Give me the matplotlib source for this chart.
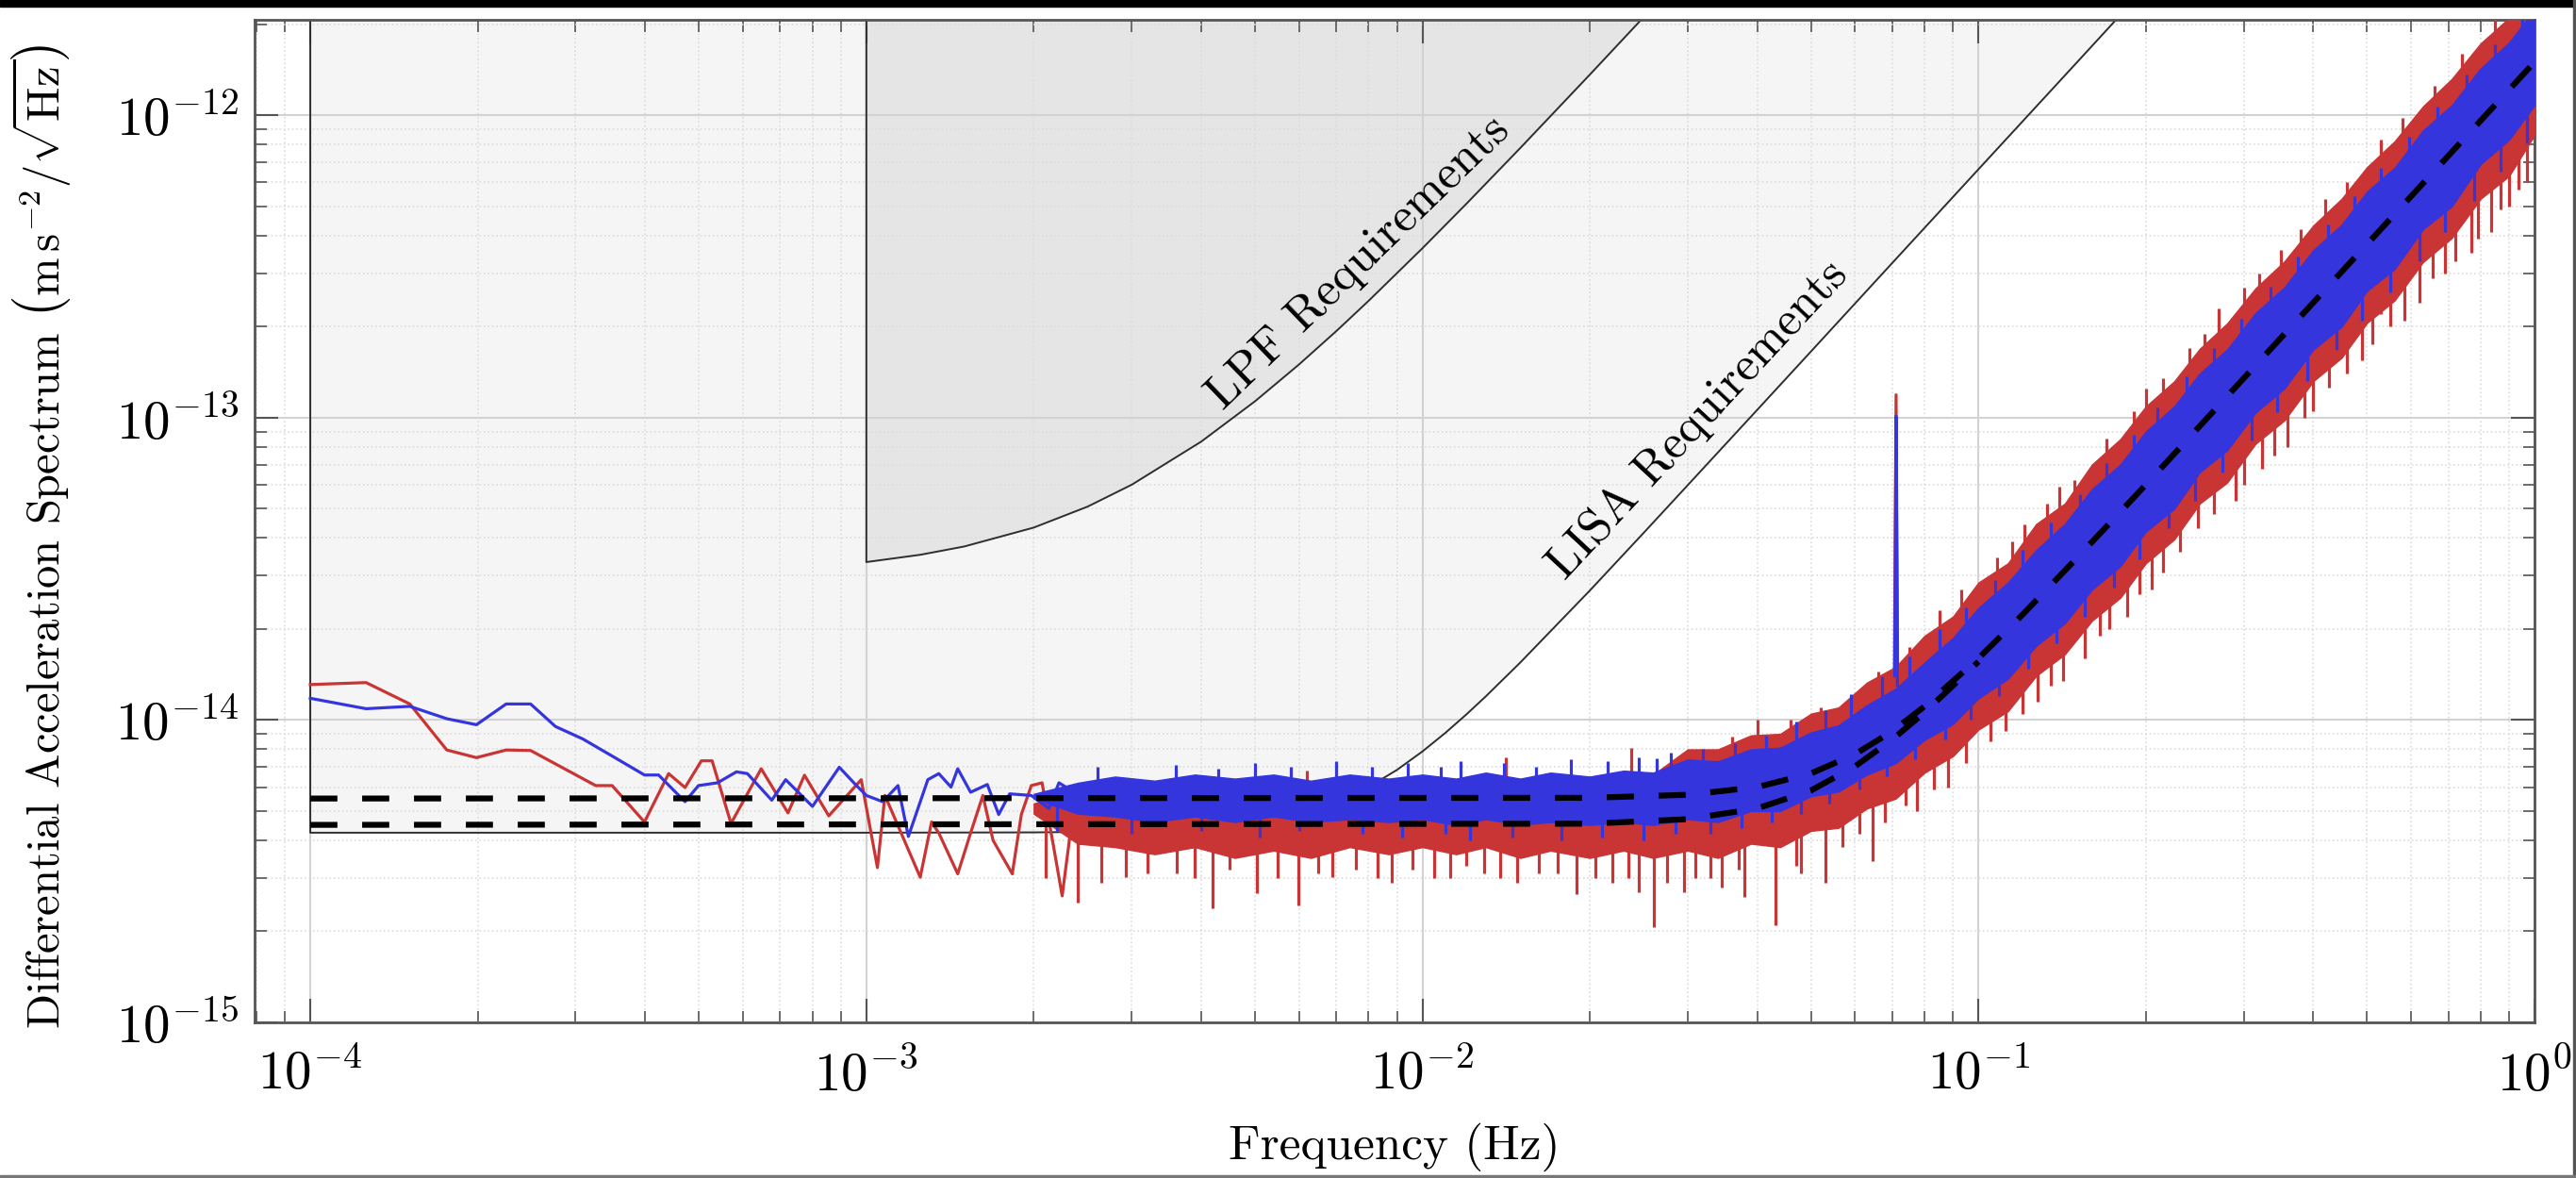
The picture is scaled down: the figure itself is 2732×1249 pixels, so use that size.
import numpy as np
import matplotlib
matplotlib.use("Agg")
import matplotlib.pyplot as plt
from matplotlib.patches import Rectangle

plt.rcParams["font.family"] = "serif"
plt.rcParams["font.serif"] = ["cmr10"]
plt.rcParams["mathtext.fontset"] = "cm"
plt.rcParams["axes.formatter.use_mathtext"] = True
plt.rcParams["axes.unicode_minus"] = False

# ----------------------------------------------------------
# 1. DATA
# ----------------------------------------------------------

x_ticks = [1e-4, 1e-3, 1e-2, 1e-1, 1e0]
y_ticks = [1e-15, 1e-14, 1e-13, 1e-12]

# requirement curves
lisa_f = [1e-4, 1e-3, 2e-3, 3e-3, 4e-3, 5e-3, 6e-3, 7e-3, 8e-3, 9e-3, 1e-2,
          1.1e-2, 1.2e-2, 1.3e-2, 1.5e-2, 2e-2, 2.5e-2, 3e-2, 4e-2, 5e-2,
          7e-2, 0.1, 0.15, 0.2]
lisa_v = [4.24e-15, 4.24e-15, 4.25e-15, 4.28e-15, 4.37e-15, 4.55e-15, 4.86e-15,
          5.34e-15, 6.0e-15, 6.84e-15, 7.87e-15, 9.07e-15, 1.044e-14, 1.197e-14,
          1.55e-14, 2.68e-14, 4.16e-14, 5.98e-14, 1.061e-13, 1.657e-13,
          3.25e-13, 6.63e-13, 1.49e-12, 2.65e-12]

lpf_f = [1e-3, 1.25e-3, 1.5e-3, 2e-3, 2.5e-3, 3e-3, 4e-3, 5e-3, 6e-3, 7e-3,
         8e-3, 1e-2, 1.2e-2, 1.5e-2, 2e-2, 2.5e-2, 3e-2]
lpf_v = [3.33e-14, 3.52e-14, 3.75e-14, 4.33e-14, 5.08e-14, 6.0e-14, 8.33e-14,
         1.133e-13, 1.5e-13, 1.933e-13, 2.433e-13, 3.633e-13, 5.1e-13, 7.8e-13,
         1.363e-12, 2.113e-12, 3.03e-12]

# noise models (dashed)
model_hi_f = [1e-4, 2e-2, 3e-2, 4e-2, 5e-2, 6e-2, 7e-2, 8e-2, 0.1, 0.12, 0.15,
              0.2, 0.3, 0.5, 0.7, 1.0]
model_hi_v = [5.5e-15, 5.53e-15, 5.66e-15, 6.0e-15, 6.66e-15, 7.71e-15, 9.18e-15,
              1.11e-14, 1.6e-14, 2.23e-14, 3.42e-14, 6.0e-14, 1.35e-13, 3.75e-13,
              7.35e-13, 1.5e-12]
model_lo_f = [1e-4, 2e-2, 3e-2, 4e-2, 5e-2, 6e-2, 7e-2, 8e-2, 0.1]
model_lo_v = [4.5e-15, 4.54e-15, 4.7e-15, 5.1e-15, 5.85e-15, 7.03e-15, 8.62e-15,
              1.06e-14, 1.56e-14]

# low-frequency part of the two spectra
red_lf_f = [1.0e-4, 1.26e-4, 1.51e-4, 1.76e-4, 1.99e-4, 2.25e-4, 2.49e-4, 3.26e-4,
            3.49e-4, 3.99e-4, 4.41e-4, 4.72e-4, 5.05e-4, 5.28e-4, 5.71e-4,
            6.47e-4, 7.23e-4, 7.74e-4, 8.56e-4, 9.79e-4, 1.047e-3, 1.08e-3,
            1.25e-3, 1.31e-3, 1.35e-3, 1.46e-3, 1.54e-3, 1.62e-3, 1.69e-3,
            1.83e-3, 1.90e-3, 1.98e-3, 2.07e-3, 2.17e-3, 2.25e-3, 2.35e-3]
red_lf_v = [1.31e-14, 1.33e-14, 1.13e-14, 7.96e-15, 7.51e-15, 7.96e-15, 7.93e-15,
            6.07e-15, 6.07e-15, 4.6e-15, 6.65e-15, 5.98e-15, 7.33e-15, 7.33e-15,
            4.55e-15, 6.9e-15, 4.93e-15, 6.57e-15, 4.82e-15, 6.35e-15, 3.25e-15,
            5.63e-15, 3.02e-15, 4.6e-15, 4.23e-15, 3.1e-15, 4.23e-15, 5.63e-15,
            4.0e-15, 3.1e-15, 4.87e-15, 6.07e-15, 6.2e-15, 3.84e-15, 2.62e-15,
            4.87e-15]

blue_lf_f = [1.0e-4, 1.26e-4, 1.51e-4, 1.76e-4, 1.99e-4, 2.25e-4, 2.49e-4, 2.76e-4,
             3.09e-4, 3.53e-4, 3.99e-4, 4.23e-4, 4.72e-4, 4.99e-4, 5.40e-4,
             5.84e-4, 6.11e-4, 6.76e-4, 7.16e-4, 8.0e-4, 8.94e-4, 9.56e-4,
             1.0e-3, 1.07e-3, 1.14e-3, 1.19e-3, 1.29e-3, 1.35e-3, 1.42e-3,
             1.46e-3, 1.54e-3, 1.65e-3, 1.73e-3, 1.81e-3, 1.98e-3, 2.13e-3,
             2.22e-3, 2.32e-3]
blue_lf_v = [1.18e-14, 1.09e-14, 1.11e-14, 1.01e-14, 9.65e-15, 1.13e-14, 1.13e-14,
             9.52e-15, 8.66e-15, 7.51e-15, 6.58e-15, 6.58e-15, 5.37e-15, 6.07e-15,
             6.2e-15, 6.74e-15, 6.65e-15, 5.43e-15, 6.35e-15, 5.18e-15, 6.98e-15,
             6.12e-15, 5.63e-15, 5.37e-15, 6.07e-15, 4.12e-15, 6.35e-15, 6.65e-15,
             6.0e-15, 6.9e-15, 5.77e-15, 6.12e-15, 4.87e-15, 5.7e-15, 5.63e-15,
             5.1e-15, 6.2e-15, 5.9e-15]

# dense part of the spectra: upper / lower edges of the traces
band_f = [2.0e-3, 2.4e-3, 2.8e-3, 3.3e-3, 3.9e-3, 4.6e-3, 5.4e-3, 6.3e-3, 7.4e-3,
          8.7e-3, 1.0e-2, 1.15e-2, 1.3e-2, 1.5e-2, 1.7e-2, 2.0e-2, 2.3e-2, 2.6e-2,
          3.0e-2, 3.4e-2, 3.9e-2, 4.4e-2, 5.0e-2, 5.6e-2, 6.3e-2, 7.1e-2, 8.0e-2,
          9.0e-2, 0.10, 0.113, 0.127, 0.143, 0.16, 0.18, 0.2, 0.225, 0.25, 0.28,
          0.315, 0.355, 0.4, 0.45, 0.5, 0.56, 0.63, 0.71, 0.8, 0.9, 1.0]

blue_top = [5.7e-15, 6.2e-15, 6.5e-15, 6.3e-15, 6.6e-15, 6.4e-15, 6.6e-15, 6.3e-15,
            6.6e-15, 6.4e-15, 6.6e-15, 6.4e-15, 6.7e-15, 6.4e-15, 6.7e-15, 6.5e-15,
            6.8e-15, 6.7e-15, 7.4e-15, 7.3e-15, 8.0e-15, 8.1e-15, 9.1e-15, 9.6e-15,
            1.12e-14, 1.27e-14, 1.55e-14, 1.87e-14, 2.35e-14, 2.85e-14, 3.65e-14,
            4.45e-14, 5.8e-14, 7.0e-14, 9.0e-14, 1.09e-13, 1.40e-13, 1.68e-13,
            2.22e-13, 2.7e-13, 3.58e-13, 4.35e-13, 5.6e-13, 6.7e-13, 8.9e-13,
            1.08e-12, 1.43e-12, 1.74e-12, 2.24e-12]
blue_bot = [5.5e-15, 4.9e-15, 4.8e-15, 4.6e-15, 4.8e-15, 4.6e-15, 4.8e-15, 4.6e-15,
            4.7e-15, 4.6e-15, 4.7e-15, 4.5e-15, 4.7e-15, 4.5e-15, 4.6e-15, 4.5e-15,
            4.6e-15, 4.5e-15, 4.7e-15, 4.6e-15, 5.0e-15, 5.0e-15, 5.6e-15, 5.8e-15,
            6.6e-15, 7.2e-15, 8.6e-15, 9.7e-15, 1.18e-14, 1.37e-14, 1.76e-14,
            2.09e-14, 2.7e-14, 3.23e-14, 4.2e-14, 5.0e-14, 6.6e-14, 7.8e-14,
            1.04e-13, 1.25e-13, 1.68e-13, 2.0e-13, 2.63e-13, 3.1e-13, 4.2e-13,
            5.0e-13, 6.9e-13, 8.3e-13, 1.08e-12]

red_top = [5.3e-15, 5.8e-15, 6.1e-15, 5.9e-15, 6.1e-15, 5.9e-15, 6.2e-15, 6.0e-15,
           6.2e-15, 6.0e-15, 6.3e-15, 6.1e-15, 6.4e-15, 6.2e-15, 6.5e-15, 6.3e-15,
           6.7e-15, 6.6e-15, 8.0e-15, 8.0e-15, 8.9e-15, 9.0e-15, 1.05e-14, 1.1e-14,
           1.33e-14, 1.5e-14, 1.9e-14, 2.2e-14, 2.85e-14, 3.3e-14, 4.45e-14,
           5.2e-14, 7.0e-14, 8.5e-14, 1.09e-13, 1.32e-13, 1.69e-13, 2.05e-13,
           2.68e-13, 3.29e-13, 4.32e-13, 5.3e-13, 6.75e-13, 8.2e-13, 1.07e-12,
           1.32e-12, 1.73e-12, 2.1e-12, 2.7e-12]
red_bot = [4.9e-15, 3.9e-15, 3.8e-15, 3.6e-15, 3.8e-15, 3.5e-15, 3.7e-15, 3.5e-15,
           3.8e-15, 3.6e-15, 3.8e-15, 3.6e-15, 3.8e-15, 3.5e-15, 3.7e-15, 3.5e-15,
           3.7e-15, 3.5e-15, 3.7e-15, 3.5e-15, 3.9e-15, 3.8e-15, 4.3e-15, 4.4e-15,
           5.1e-15, 5.5e-15, 6.7e-15, 7.6e-15, 9.3e-15, 1.07e-14, 1.4e-14,
           1.65e-14, 2.13e-14, 2.54e-14, 3.3e-14, 3.96e-14, 5.2e-14, 6.1e-14,
           8.2e-14, 9.8e-14, 1.32e-13, 1.58e-13, 2.06e-13, 2.44e-13, 3.27e-13,
           3.93e-13, 5.3e-13, 6.3e-13, 8.6e-13]

# isolated downward excursions of the red trace (frequency, low end, high end)
red_dip_f = [2.40e-3, 2.93e-3, 3.61e-3, 4.19e-3, 5.03e-3, 5.99e-3, 6.89e-3, 8.79e-3,
             1.05e-2, 1.29e-2, 1.62e-2, 1.89e-2, 2.2e-2, 2.61e-2, 2.95e-2, 3.45e-2,
             3.8e-2, 4.32e-2, 4.8e-2, 5.3e-2, 6.45e-2, 7.76e-2, 0.12, 0.128,
             0.155, 0.185, 0.215, 0.248, 0.323, 0.36, 0.427, 0.46, 0.53, 0.583,
             0.69, 0.771, 0.834, 0.97,
             2.1e-3, 2.65e-3, 3.2e-3, 3.9e-3, 4.5e-3, 5.5e-3, 6.5e-3, 7.6e-3,
             8.3e-3, 9.6e-3, 1.12e-2, 1.2e-2, 1.38e-2, 1.48e-2, 1.75e-2, 2.05e-2,
             2.35e-2, 2.45e-2, 2.75e-2, 3.1e-2,
             0.033, 0.037, 0.047, 0.057, 0.061, 0.068, 0.074, 0.083, 0.088, 0.095,
             0.105, 0.112, 0.135, 0.142, 0.165, 0.172, 0.195, 0.205, 0.23, 0.265,
             0.29, 0.30, 0.34, 0.385, 0.40, 0.49, 0.51, 0.55, 0.62, 0.655, 0.72,
             0.79, 0.87, 0.90, 0.935, 1.0]
red_dip_lo = [2.49e-15, 3.02e-15, 3.1e-15, 2.38e-15, 2.68e-15, 2.43e-15, 3.02e-15,
              2.9e-15, 3.0e-15, 3.1e-15, 3.1e-15, 2.65e-15, 2.9e-15, 2.06e-15,
              2.7e-15, 2.8e-15, 2.6e-15, 2.1e-15, 3.1e-15, 2.9e-15, 3.42e-15,
              5.0e-15, 1.05e-14, 1.15e-14, 1.6e-14, 2.2e-14, 3.07e-14, 4.3e-14,
              6.8e-14, 8.0e-14, 1.26e-13, 1.4e-13, 2.2e-13, 2.1e-13, 3.0e-13,
              3.5e-13, 4.1e-13, 6.0e-13,
              3.0e-15, 2.9e-15, 3.1e-15, 3.0e-15, 3.2e-15, 3.0e-15, 3.1e-15, 3.2e-15,
              3.0e-15, 3.2e-15, 3.0e-15, 3.3e-15, 3.0e-15, 2.9e-15, 3.1e-15, 3.0e-15,
              3.0e-15, 2.7e-15, 2.9e-15, 3.0e-15,
              3.0e-15, 3.2e-15, 3.3e-15, 3.8e-15, 4.2e-15, 4.6e-15, 5.2e-15, 5.9e-15,
              6.0e-15, 7.2e-15, 8.5e-15, 9.2e-15, 1.3e-14, 1.35e-14, 1.9e-14, 2.0e-14,
              2.6e-14, 2.7e-14, 3.6e-14, 4.8e-14, 5.3e-14, 6.0e-14, 7.5e-14, 1.0e-13,
              1.05e-13, 1.55e-13, 1.75e-13, 2.0e-13, 2.4e-13, 2.9e-13, 3.3e-13,
              3.9e-13, 4.9e-13, 5.0e-13, 5.7e-13, 7.0e-13]
red_dip_hi = [4.5e-15, 4.5e-15, 4.5e-15, 4.5e-15, 4.5e-15, 4.5e-15, 4.5e-15, 4.5e-15,
              4.5e-15, 4.5e-15, 4.5e-15, 4.5e-15, 4.5e-15, 4.5e-15, 4.5e-15, 5.7e-15,
              5.9e-15, 6.2e-15, 6.5e-15, 6.9e-15, 8.3e-15, 1.07e-14, 2.2e-14,
              2.5e-14, 3.6e-14, 5.1e-14, 6.9e-14, 9.2e-14, 1.56e-13, 1.94e-13,
              2.73e-13, 3.17e-13, 4.2e-13, 5.1e-13, 7.1e-13, 8.9e-13, 1.04e-12,
              1.41e-12,
              4.5e-15, 4.5e-15, 4.5e-15, 4.5e-15, 4.5e-15, 4.5e-15, 4.5e-15, 4.5e-15,
              4.5e-15, 4.5e-15, 4.5e-15, 4.5e-15, 4.5e-15, 4.5e-15, 4.5e-15, 4.5e-15,
              4.5e-15, 4.5e-15, 4.5e-15, 4.6e-15,
              5.73e-15, 5.87e-15, 6.43e-15, 7.35e-15, 7.85e-15, 8.9e-15, 9.8e-15,
              1.17e-14, 1.29e-14, 1.46e-14, 1.74e-14, 1.95e-14, 2.8e-14, 3.07e-14,
              4.1e-14, 4.48e-14, 5.7e-14, 6.3e-14, 7.94e-14, 1.05e-13, 1.26e-13,
              1.35e-13, 1.73e-13, 2.22e-13, 2.4e-13, 3.6e-13, 3.9e-13, 4.54e-13,
              5.77e-13, 6.44e-13, 7.77e-13, 9.36e-13, 1.135e-12, 1.215e-12,
              1.311e-12, 1.5e-12]

# upward excursions of the red trace
red_up_f = [6.2e-3, 1.41e-2, 2.37e-2, 4.0e-2, 5.97e-2, 8.5e-2, 0.108, 0.121, 0.149,
            0.2, 0.27, 0.35, 0.46, 0.612,
            0.036, 0.046, 0.052, 0.066, 0.075, 0.093, 0.115, 0.133, 0.14, 0.17,
            0.19, 0.215, 0.24, 0.255, 0.3, 0.32, 0.38, 0.42, 0.53, 0.58, 0.66,
            0.74, 0.85]
red_up_lo = [5.0e-15, 5.0e-15, 5.0e-15, 6.0e-15, 7.5e-15, 1.2e-14, 1.8e-14, 2.27e-14,
             3.3e-14, 6.0e-14, 1.1e-13, 1.8e-13, 3.17e-13, 5.6e-13,
             5.84e-15, 6.35e-15, 6.85e-15, 8.5e-15, 1.0e-14, 1.4e-14, 2.06e-14,
             2.73e-14, 2.99e-14, 4.35e-14, 5.44e-14, 6.95e-14, 8.66e-14, 9.77e-14,
             1.35e-13, 1.54e-13, 2.17e-13, 2.65e-13, 4.21e-13, 5.05e-13, 6.53e-13,
             8.21e-13, 1.084e-12]
red_up_hi = [6.8e-15, 7.5e-15, 8.1e-15, 1.0e-14, 1.12e-14, 2.3e-14, 3.45e-14,
             4.45e-14, 6.2e-14, 1.25e-13, 2.3e-13, 3.6e-13, 6.0e-13, 9.7e-13,
             8.8e-15, 1.0e-14, 1.1e-14, 1.45e-14, 1.75e-14, 2.7e-14, 3.9e-14,
             5.2e-14, 5.9e-14, 8.5e-14, 1.05e-13, 1.35e-13, 1.7e-13, 1.9e-13,
             2.7e-13, 3.0e-13, 4.2e-13, 5.3e-13, 8.3e-13, 9.8e-13, 1.25e-12,
             1.6e-12, 2.1e-12]

# excursions of the blue trace above its dense part
blue_up_f = [2.6e-3, 3.6e-3, 4.3e-3, 5.0e-3, 5.8e-3, 7.0e-3, 8.1e-3, 9.4e-3, 1.08e-2,
             1.17e-2, 1.4e-2, 1.6e-2, 1.85e-2, 2.15e-2, 2.45e-2, 2.64e-2, 2.8e-2,
             3.2e-2, 3.65e-2, 4.15e-2, 4.7e-2, 5.3e-2, 5.9e-2, 6.7e-2, 7.5e-2,
             8.5e-2, 0.095, 0.107, 0.12, 0.135, 0.152, 0.17, 0.19, 0.21, 0.237,
             0.265, 0.297, 0.335, 0.375, 0.425, 0.475, 0.53, 0.595, 0.67, 0.755,
             0.85, 0.95]
blue_up_lo = [5.5e-15, 5.5e-15, 5.5e-15, 5.5e-15, 5.5e-15, 5.5e-15, 5.5e-15, 5.5e-15,
              5.5e-15, 5.5e-15, 5.5e-15, 5.5e-15, 5.5e-15, 5.5e-15, 5.5e-15, 5.5e-15,
              5.5e-15, 5.71e-15, 5.85e-15, 6.07e-15, 6.42e-15, 6.93e-15, 7.58e-15,
              8.69e-15, 1.007e-14, 1.215e-14, 1.46e-14, 1.8e-14, 2.23e-14, 2.79e-14,
              3.5e-14, 4.34e-14, 5.42e-14, 6.62e-14, 8.43e-14, 1.053e-13, 1.323e-13,
              1.683e-13, 2.11e-13, 2.71e-13, 3.38e-13, 4.21e-13, 5.31e-13, 6.73e-13,
              8.55e-13, 1.084e-12, 1.354e-12]
blue_up_hi = [7.0e-15, 7.1e-15, 6.9e-15, 7.2e-15, 7.0e-15, 7.3e-15, 7.0e-15, 7.2e-15,
              7.0e-15, 7.3e-15, 7.2e-15, 7.0e-15, 7.4e-15, 7.3e-15, 7.5e-15, 7.45e-15,
              7.8e-15, 8.0e-15, 8.4e-15, 8.9e-15, 9.9e-15, 1.08e-14, 1.22e-14,
              1.4e-14, 1.62e-14, 2.0e-14, 2.35e-14, 2.9e-14, 3.65e-14, 4.5e-14,
              5.6e-14, 7.1e-14, 8.8e-14, 1.08e-13, 1.37e-13, 1.7e-13, 2.13e-13,
              2.72e-13, 3.4e-13, 4.35e-13, 5.4e-13, 6.7e-13, 8.5e-13, 1.07e-12,
              1.36e-12, 1.72e-12, 2.15e-12]

# excursions of the blue trace below its dense part
blue_dn_f = [2.2e-3, 3.0e-3, 4.0e-3, 5.1e-3, 6.0e-3, 7.8e-3, 9.2e-3, 1.1e-2, 1.22e-2,
             1.45e-2, 1.78e-2, 2.1e-2, 2.5e-2, 2.85e-2, 3.3e-2, 3.75e-2, 4.25e-2,
             4.8e-2, 5.4e-2, 6.1e-2, 6.85e-2, 7.7e-2, 8.7e-2, 0.097, 0.109, 0.123,
             0.138, 0.155, 0.175, 0.195, 0.22, 0.245, 0.275, 0.31, 0.345, 0.39,
             0.44, 0.49, 0.55, 0.62, 0.69, 0.78, 0.87, 0.97]
blue_dn_lo = [4.3e-15, 4.2e-15, 4.3e-15, 4.1e-15, 4.3e-15, 4.2e-15, 4.1e-15, 4.2e-15,
              4.0e-15, 4.1e-15, 4.0e-15, 4.1e-15, 4.0e-15, 4.2e-15, 4.2e-15, 4.4e-15,
              4.6e-15, 4.9e-15, 5.3e-15, 5.9e-15, 6.5e-15, 7.4e-15, 8.6e-15, 1.0e-14,
              1.2e-14, 1.48e-14, 1.8e-14, 2.2e-14, 2.75e-14, 3.4e-14, 4.3e-14,
              5.3e-14, 6.6e-14, 8.4e-14, 1.04e-13, 1.32e-13, 1.68e-13, 2.1e-13,
              2.6e-13, 3.3e-13, 4.1e-13, 5.2e-13, 6.5e-13, 8.1e-13]
blue_dn_hi = [5.5e-15, 5.5e-15, 5.5e-15, 5.5e-15, 5.5e-15, 5.5e-15, 5.5e-15, 5.5e-15,
              5.5e-15, 5.5e-15, 5.5e-15, 5.5e-15, 5.5e-15, 5.64e-15, 5.75e-15,
              5.9e-15, 6.13e-15, 6.5e-15, 7.02e-15, 7.84e-15, 8.93e-15, 1.045e-14,
              1.26e-14, 1.51e-14, 1.865e-14, 2.33e-14, 2.91e-14, 3.64e-14, 4.62e-14,
              5.73e-14, 7.28e-14, 9.0e-14, 1.134e-13, 1.44e-13, 1.785e-13, 2.28e-13,
              2.9e-13, 3.6e-13, 4.54e-13, 5.77e-13, 7.14e-13, 9.13e-13, 1.135e-12,
              1.41e-12]

# calibration line near 70 mHz
red_line_f = [0.0706, 0.0711, 0.0716]
red_line_v = [1.4e-14, 1.19e-13, 1.3e-14]
blue_line_f = [0.0707, 0.0711, 0.0715]
blue_line_v = [1.4e-14, 1.01e-13, 1.3e-14]

# ----------------------------------------------------------
# 2. STYLE
# ----------------------------------------------------------
RED = "#c93434"
BLUE = "#3535dd"
LISA_FILL = "#f5f5f5"
LPF_FILL = "#e5e5e5"
REQ_EDGE = "#2e2e2e"
REQ_CEIL = 1e-10
XLIM = (7.94e-5, 1.0)
YLIM = (1e-15, 2.07e-12)
TRACE_LW = 2.3

W, H = 2732, 1249
fig = plt.figure(figsize=(W / 100, H / 100), dpi=100)
ax = fig.add_axes([270 / W, 1 - 1084 / H, 2418 / W, 1063 / H])
ax.set_xscale("log")
ax.set_yscale("log")
ax.set_xticks(x_ticks)
ax.set_yticks(y_ticks)
ax.set_xlim(*XLIM)
ax.set_ylim(*YLIM)

# requirement regions
ax.fill_between(lisa_f, lisa_v, REQ_CEIL, color=LISA_FILL, lw=0, zorder=0.8)
ax.plot([lisa_f[0]] + lisa_f, [REQ_CEIL] + lisa_v, color=REQ_EDGE, lw=1.4, zorder=2)
ax.fill_between(lpf_f, lpf_v, REQ_CEIL, color=LPF_FILL, lw=0, zorder=0.9)
ax.plot([lpf_f[0]] + lpf_f, [REQ_CEIL] + lpf_v, color=REQ_EDGE, lw=1.4, zorder=2)

# red spectrum
ax.fill_between(band_f, red_bot, red_top, facecolor=RED, edgecolor=RED, lw=1.0, zorder=3)
ax.plot(red_lf_f, red_lf_v, color=RED, lw=TRACE_LW, zorder=3)
ax.vlines(red_dip_f, red_dip_lo, red_dip_hi, color=RED, lw=TRACE_LW, zorder=3)
ax.vlines(red_up_f, red_up_lo, red_up_hi, color=RED, lw=TRACE_LW, zorder=3)
ax.plot(red_line_f, red_line_v, color=RED, lw=TRACE_LW, zorder=3)

# blue spectrum
ax.fill_between(band_f, blue_bot, blue_top, facecolor=BLUE, edgecolor=BLUE, lw=1.0, zorder=4)
ax.plot(blue_lf_f, blue_lf_v, color=BLUE, lw=TRACE_LW, zorder=4)
ax.vlines(blue_up_f, blue_up_lo, blue_up_hi, color=BLUE, lw=TRACE_LW, zorder=4)
ax.vlines(blue_dn_f, blue_dn_lo, blue_dn_hi, color=BLUE, lw=TRACE_LW, zorder=4)
ax.plot(blue_line_f, blue_line_v, color=BLUE, lw=TRACE_LW, zorder=4)

# noise models
ax.plot(model_hi_f, model_hi_v, color="black", lw=4.5, dashes=(4.6, 4.2), zorder=5)
ax.plot(model_lo_f, model_lo_v, color="black", lw=4.5, dashes=(4.6, 4.2), zorder=5)

# labels on the requirement curves
ax.text(7.97e-3, 3.04e-13, "LPF Requirements", fontsize=37, rotation=44,
        rotation_mode="anchor", ha="center", va="baseline", zorder=6)
ax.text(3.25e-2, 9.2e-14, "LISA Requirements", fontsize=37, rotation=47,
        rotation_mode="anchor", ha="center", va="baseline", zorder=6)

# grid / ticks / spines
ax.set_axisbelow("line")
ax.grid(True, which="major", color="#d2d2d2", lw=1.5, ls="-")
ax.grid(True, which="minor", color="#dcdcdc", lw=1.2, ls=":")
ax.tick_params(which="both", direction="in", top=True, right=True,
               color="#555555", labelcolor="black")
ax.tick_params(which="major", length=18, width=1.5, labelsize=41)
ax.tick_params(which="minor", length=9, width=1.2)
ax.tick_params(axis="x", pad=20)
ax.tick_params(axis="y", pad=12)
for s in ax.spines.values():
    s.set_color("#555555")
    s.set_linewidth(2)

ax.set_xlabel("Frequency (Hz)", fontsize=37)
ax.xaxis.set_label_coords(0.5, -0.100)
ax.set_ylabel("Differential Acceleration Spectrum "
              r"$\left(\mathrm{m\,s^{-2}/\sqrt{Hz}}\right)$", fontsize=35)
ax.yaxis.set_label_coords(-0.080, 0.485)

# screenshot frame
fig.add_artist(Rectangle((0, 1 - 7 / H), 1, 7 / H, transform=fig.transFigure,
                         color="black", zorder=10))
fig.add_artist(Rectangle((1 - 3 / W, 0), 3 / W, 1, transform=fig.transFigure,
                         color="#555555", zorder=10))
fig.add_artist(Rectangle((0, 0), 1, 3 / H, transform=fig.transFigure,
                         color="#777777", zorder=10))

fig.savefig("out.png", dpi=100)
plt.close(fig)
